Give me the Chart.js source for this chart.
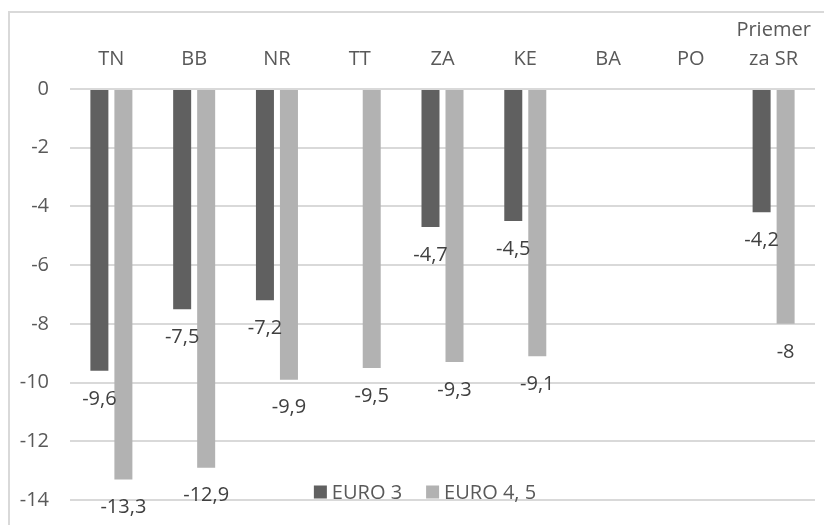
<!DOCTYPE html>
<html>
<head>
<meta charset="utf-8">
<script src="https://cdn.jsdelivr.net/npm/chart.js@4/dist/chart.umd.min.js"></script>
<style>
  html, body { margin: 0; padding: 0; background: #fff; }
  canvas { display: block; }
</style>
</head>
<body>
<canvas id="chart" width="824" height="525"></canvas>
<script>
// regions (last one is the national average, two lines)
const categories = ['TN', 'BB', 'NR', 'TT', 'ZA', 'KE', 'BA', 'PO', ['Priemer', 'za SR']];
const euro3 = [-9.6, -7.5, -7.2, null, -4.7, -4.5, null, null, -4.2];
const euro45 = [-13.3, -12.9, -9.9, -9.5, -9.3, -9.1, null, null, -8];
const seriesNames = ['EURO 3', 'EURO 4, 5'];
const yTicks = [0, -2, -4, -6, -8, -10, -12, -14];

const FONT = '"Open Sans", sans-serif';

// grey frame round the whole chart (only left/top edges show in the picture)
const framePlugin = {
    id: 'frame',
    beforeDraw(chart) {
        const ctx = chart.ctx;
        ctx.save();
        ctx.fillStyle = '#fff';
        ctx.fillRect(0, 0, chart.width, chart.height);
        ctx.strokeStyle = '#d9d9d9';
        ctx.lineWidth = 2;
        ctx.strokeRect(9, 12, chart.width + 20, chart.height + 20);
        ctx.restore();
    }
};

// value labels under the end of each bar, decimal comma
const valueLabels = {
    id: 'valueLabels',
    afterDatasetsDraw(chart) {
        const ctx = chart.ctx;
        ctx.save();
        ctx.font = '20px ' + FONT;
        ctx.fillStyle = '#404040';
        ctx.textAlign = 'center';
        ctx.textBaseline = 'middle';
        chart.data.datasets.forEach((ds, i) => {
            chart.getDatasetMeta(i).data.forEach((bar, j) => {
                const v = ds.data[j];
                if (v === null || v === undefined) return;
                ctx.fillText(String(v).replace('.', ','), bar.x, bar.y + 28);
            });
        });
        ctx.restore();
    }
};

// legend sits inside the plot, near the bottom
const innerLegend = {
    id: 'innerLegend',
    afterDraw(chart) {
        const ctx = chart.ctx;
        ctx.save();
        ctx.font = '20px ' + FONT;
        ctx.textBaseline = 'middle';
        const box = 13, gap = 5, spacing = 24;
        const items = chart.data.datasets.map(ds => ({
            text: ds.label, color: ds.backgroundColor, w: ctx.measureText(ds.label).width
        }));
        let total = 0;
        items.forEach((it, k) => { total += box + gap + it.w + (k ? spacing : 0); });
        let x = 425 - total / 2;
        const y = 492;
        items.forEach((it, k) => {
            if (k) x += spacing;
            ctx.fillStyle = it.color;
            ctx.fillRect(x, y - box / 2, box, box);
            x += box + gap;
            ctx.fillStyle = '#595959';
            ctx.fillText(it.text, x, y + 1);
            x += it.w;
        });
        ctx.restore();
    }
};

new Chart(document.getElementById('chart'), {
    type: 'bar',
    data: {
        labels: categories,
        datasets: [
            {
                label: seriesNames[0],
                data: euro3,
                backgroundColor: '#606060',
                categoryPercentage: 0.58,
                barPercentage: 0.75,
            },
            {
                label: seriesNames[1],
                data: euro45,
                backgroundColor: '#b2b2b2',
                categoryPercentage: 0.58,
                barPercentage: 0.75,
            },
        ],
    },
    plugins: [framePlugin, valueLabels, innerLegend],
    options: {
        responsive: false,
        animation: false,
        layout: {
            padding: { left: 0, right: 9, top: 0, bottom: 25 },
        },
        plugins: {
            legend: { display: false },
            tooltip: { enabled: false },
        },
        scales: {
            x: {
                position: 'top',
                grid: { display: false },
                border: { display: false },
                ticks: {
                    color: '#595959',
                    font: { family: FONT, size: 20, lineHeight: 1.45 },
                    padding: 7,
                    maxRotation: 0,
                },
                afterFit(scale) { scale.height = 89; },
            },
            y: {
                min: -14,
                max: 0,
                afterBuildTicks(scale) { scale.ticks = yTicks.map(v => ({ value: v })); },
                grid: { color: '#d9d9d9', lineWidth: 2, drawTicks: false },
                border: { display: false },
                ticks: {
                    color: '#595959',
                    font: { family: FONT, size: 20 },
                    padding: 21,
                    callback: v => String(v),
                },
                afterFit(scale) {
                    scale.width = 70;
                    scale.paddingTop = 0;
                    scale.paddingBottom = 0;
                },
            },
        },
    },
});
</script>
</body>
</html>
